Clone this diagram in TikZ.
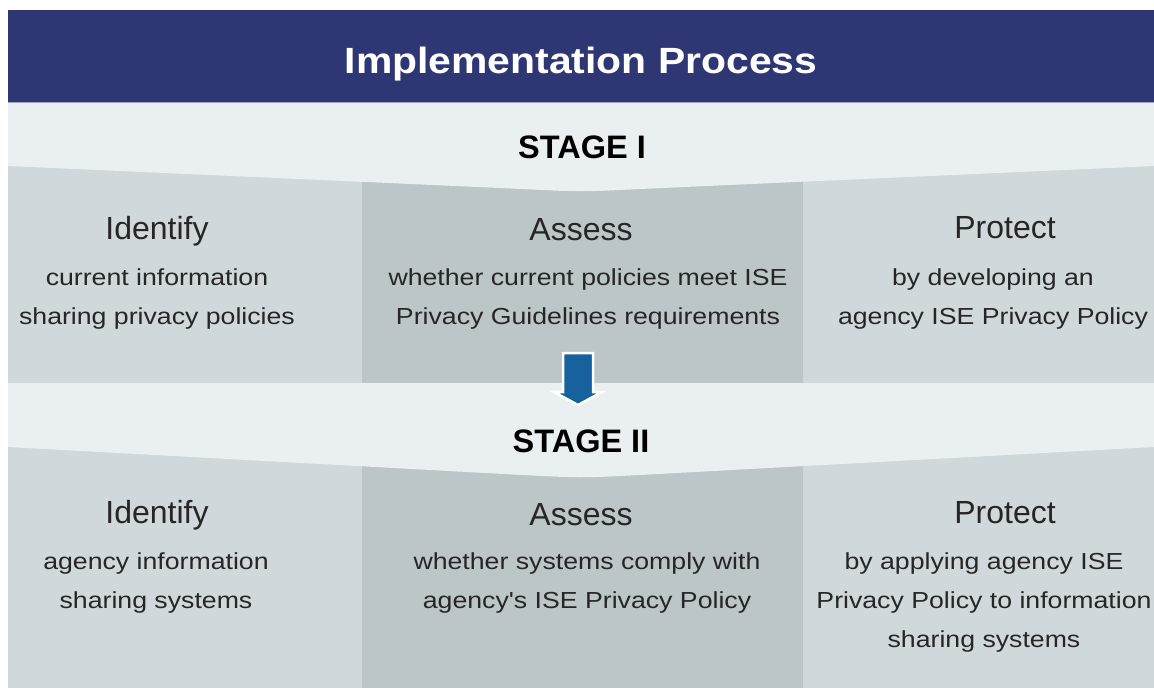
\documentclass[tikz,border=0pt]{standalone}
\usepackage{fontspec}
\setmainfont{Liberation Sans}
\newfontfamily\bodyfont{Liberation Sans}[FakeStretch=1.15]
\newfontfamily\titlefont{Liberation Sans}[FakeStretch=1.12]
\definecolor{navy}{HTML}{2E3774}
\definecolor{bandgray}{HTML}{EAEFF2}
\definecolor{sidegray}{HTML}{D0D8DB}
\definecolor{midgray}{HTML}{BCC5C8}
\definecolor{arrowblue}{HTML}{17619E}
\definecolor{ink}{HTML}{262626}
\tikzset{
	%Define style for the stage titles
	stage/.style={
		anchor=base,
		inner sep=0pt,
		text=black,
		font=\fontsize{32.5}{39}\selectfont\bfseries},
	%Define style for the column headings
	head/.style={
		anchor=base,
		inner sep=0pt,
		text=ink,
		font=\fontsize{32}{38}\selectfont},
	%Define style for the text under a heading (base = last line)
	body/.style={
		anchor=base,
		inner sep=0pt,
		align=center,
		text=ink,
		font=\bodyfont\fontsize{23.2}{39}\selectfont},
}

\begin{document}
\begin{tikzpicture}[x=1pt, y=-1pt]
	\useasboundingbox (0,0) rectangle (1154,688);
	
	% columns of both stages
	\foreach \top/\bot in {150/383, 430/688} {
		\fill[sidegray] (8,\top) rectangle (362,\bot);
		\fill[midgray] (362,\top) rectangle (803,\bot);
		\fill[sidegray] (803,\top) rectangle (1154,\bot);
	}
	
	% light bands with a notch at the bottom
	\foreach \y/\d in {102/90, 383/95} {
		\fill[bandgray] (8,\y) -- (1154,\y) -- (1154,\y+64) -- (640,\y+\d-3)
			.. controls (581,\y+\d) .. (522,\y+\d-3) -- (8,\y+64) -- cycle;
	}
	
	% title bar
	\fill[navy] (8,10) rectangle (1154,102);
	\draw[navy!45, line width=1.2pt] (8,102.5) -- (1154,102.5);
	\node[anchor=base, inner sep=0pt, text=white,
		font=\titlefont\fontsize{36.5}{44}\selectfont\bfseries] (title) at (581,73) {Implementation Process};
	
	% arrow from stage I to stage II
	\filldraw[fill=arrowblue, draw=white, line width=2.5pt, line join=miter]
		(563,353) -- (593,353) -- (593,392) -- (602,392) -- (578,405) -- (554,392) -- (563,392) -- cycle;
	
	\node[stage] (stageI) at (582,158) {STAGE I};
	\node[stage] (stageII) at (581,452) {STAGE II};
	
	% stage I
	\node[head] (identI) at (157,239) {Identify};
	\node[head] (assessI) at (581,240) {Assess};
	\node[head] (protectI) at (1005,238) {Protect};
	\node[body] (identIText) at (157,324)
		{current information\\sharing privacy policies};
	\node[body] (assessIText) at (588,324)
		{whether current policies meet ISE\\Privacy Guidelines requirements};
	\node[body] (protectIText) at (993,324)
		{by developing an\\agency ISE Privacy Policy};
	
	% stage II
	\node[head] (identII) at (157,523) {Identify};
	\node[head] (assessII) at (581,525) {Assess};
	\node[head] (protectII) at (1005,523) {Protect};
	\node[body] (identIIText) at (156,608)
		{agency information\\sharing systems};
	\node[body] (assessIIText) at (587,608)
		{whether systems comply with\\agency's ISE Privacy Policy};
	\node[body] (protectIIText) at (984,647)
		{by applying agency ISE\\Privacy Policy to information\\sharing systems};
	
\end{tikzpicture}
\end{document}
